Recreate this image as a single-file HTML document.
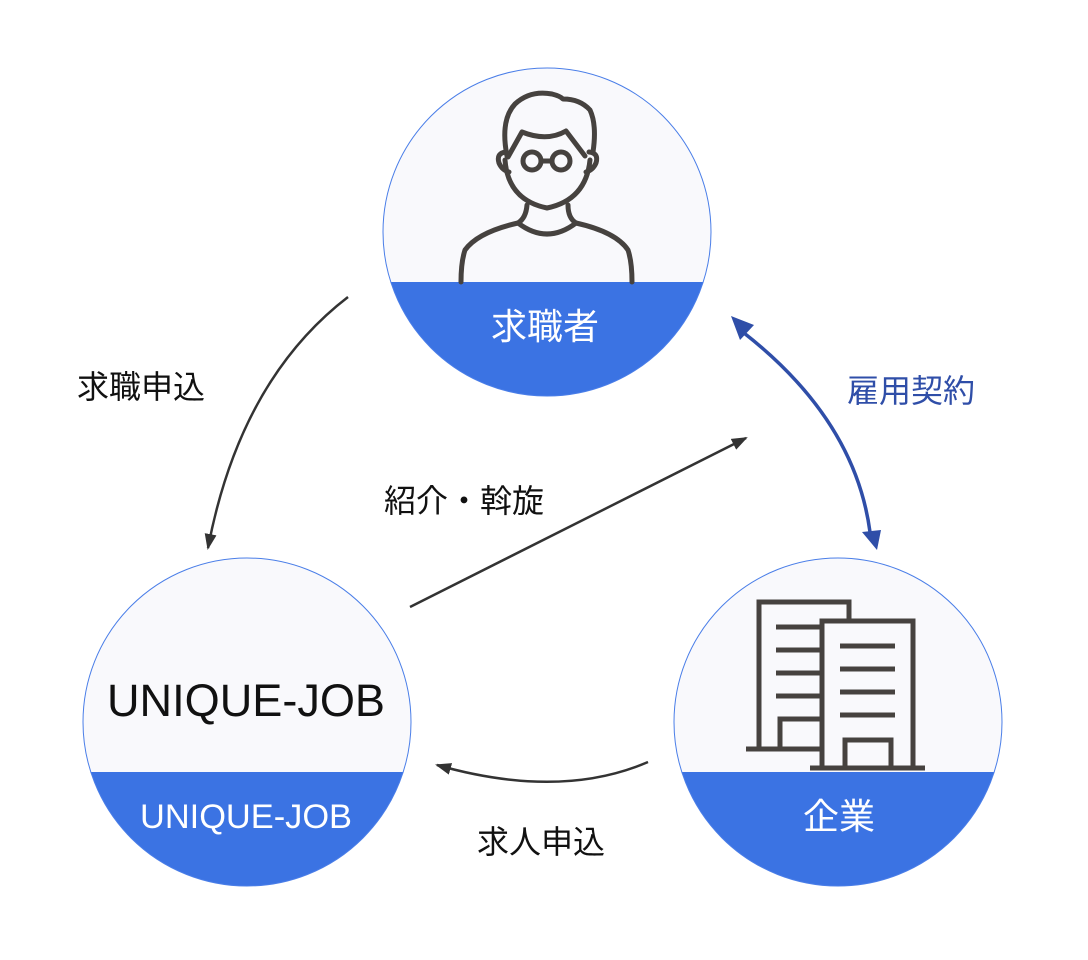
<!DOCTYPE html><html><head><style>body{margin:0;background:#fff}svg{display:block}text{font-family:"Liberation Sans","Noto Sans CJK JP",sans-serif}</style></head><body>
<svg width="1088" height="960" viewBox="0 0 1088 960">
<defs>
<clipPath id="c1"><circle cx="547" cy="232" r="164"/></clipPath>
<clipPath id="c2"><circle cx="247" cy="722" r="164"/></clipPath>
<clipPath id="c3"><circle cx="838" cy="722" r="164"/></clipPath>
<marker id="ag" markerWidth="16" markerHeight="12" refX="14" refY="6" orient="auto" markerUnits="userSpaceOnUse" viewBox="0 0 16 12"><path d="M0,0 L16,6 L0,12 z" fill="#333"/></marker>
</defs>
<g clip-path="url(#c1)"><rect x="380" y="60" width="340" height="340" fill="#f9f9fc"/><rect x="380" y="282" width="340" height="120" fill="#3b73e3"/></g>
<circle cx="547" cy="232" r="164" fill="none" stroke="#4a7ee8" stroke-width="1"/>
<g clip-path="url(#c2)"><rect x="80" y="555" width="340" height="340" fill="#f9f9fc"/><rect x="80" y="772" width="340" height="120" fill="#3b73e3"/></g>
<circle cx="247" cy="722" r="164" fill="none" stroke="#4a7ee8" stroke-width="1"/>
<g clip-path="url(#c3)"><rect x="670" y="555" width="340" height="340" fill="#f9f9fc"/><rect x="670" y="772" width="340" height="120" fill="#3b73e3"/></g>
<circle cx="838" cy="722" r="164" fill="none" stroke="#4a7ee8" stroke-width="1"/>
<!-- person -->
<g fill="none" stroke="#46423f" stroke-width="5" stroke-linecap="round" stroke-linejoin="round">
<path d="M507,156 Q500,120 515,104 Q530,90 552,94 Q560,96 563,99 Q580,99 590,110 Q597,125 593,152"/>
<path d="M508,157 L522,132 Q547,142 566,131 L585,156"/>
<path d="M505,160 Q508,200 547,208 Q586,200 590,160"/>
<path d="M506,152 Q496,153 499,163 Q502,170 509,172"/>
<path d="M589,152 Q599,153 596,163 Q593,170 586,172"/>
<circle cx="532" cy="161" r="9"/><circle cx="561" cy="161" r="9"/><path d="M541,161 L552,161"/>
<path d="M527,205 Q526,218 518,223 Q478,232 465,250 Q461,262 461,282"/>
<path d="M568,205 Q568,218 576,223 Q616,232 628,250 Q632,262 632,282"/>
<path d="M518,223 Q547,245 576,223"/>
</g>
<!-- building -->
<g fill="none" stroke="#46423f" stroke-width="5">
<path d="M759,749 L759,602 L849,602 L849,619"/>
<path d="M746,749 L820,749"/>
<path d="M776,627H820M776,650H820M776,673H820M776,696H820"/>
<path d="M780,749 L780,719 L820,719"/>
<path d="M822,768 L822,621 L913,621 L913,768"/>
<path d="M810,768 L925,768"/>
<path d="M840,646H895M840,669H895M840,692H895M840,715H895"/>
<path d="M845,768 L845,740 L891,740 L891,768"/>
</g>
<!-- arrows -->
<path d="M348,297 Q240,380 208,548" fill="none" stroke="#333" stroke-width="2.5" marker-end="url(#ag)"/>
<path d="M410,607 L746,438" fill="none" stroke="#333" stroke-width="2.5" marker-end="url(#ag)"/>
<path d="M648,762 Q560,800 437,765" fill="none" stroke="#333" stroke-width="2.5" marker-end="url(#ag)"/>
<path d="M744,333 Q855,420 870,532" fill="none" stroke="#2f4ea8" stroke-width="3.5"/>
<path d="M731,316 L754,325 L740,340 z" fill="#2f4ea8"/>
<path d="M877,550 L862,532 L881,530 z" fill="#2f4ea8"/>
<!-- text -->
<text x="545" y="339" font-size="36" fill="#fff" text-anchor="middle">求職者</text>
<text x="246" y="716" font-size="45" fill="#111" text-anchor="middle" textLength="278" lengthAdjust="spacingAndGlyphs">UNIQUE-JOB</text>
<text x="246" y="828" font-size="34" fill="#fff" text-anchor="middle" textLength="212" lengthAdjust="spacingAndGlyphs">UNIQUE-JOB</text>
<text x="839" y="829" font-size="36" fill="#fff" text-anchor="middle">企業</text>
<text x="77" y="398" font-size="32" fill="#111">求職申込</text>
<text x="847" y="402" font-size="32" fill="#2f4ea8">雇用契約</text>
<text x="384" y="512" font-size="32" fill="#111">紹介・斡旋</text>
<text x="477" y="853" font-size="32" fill="#111">求人申込</text>
</svg></body></html>
